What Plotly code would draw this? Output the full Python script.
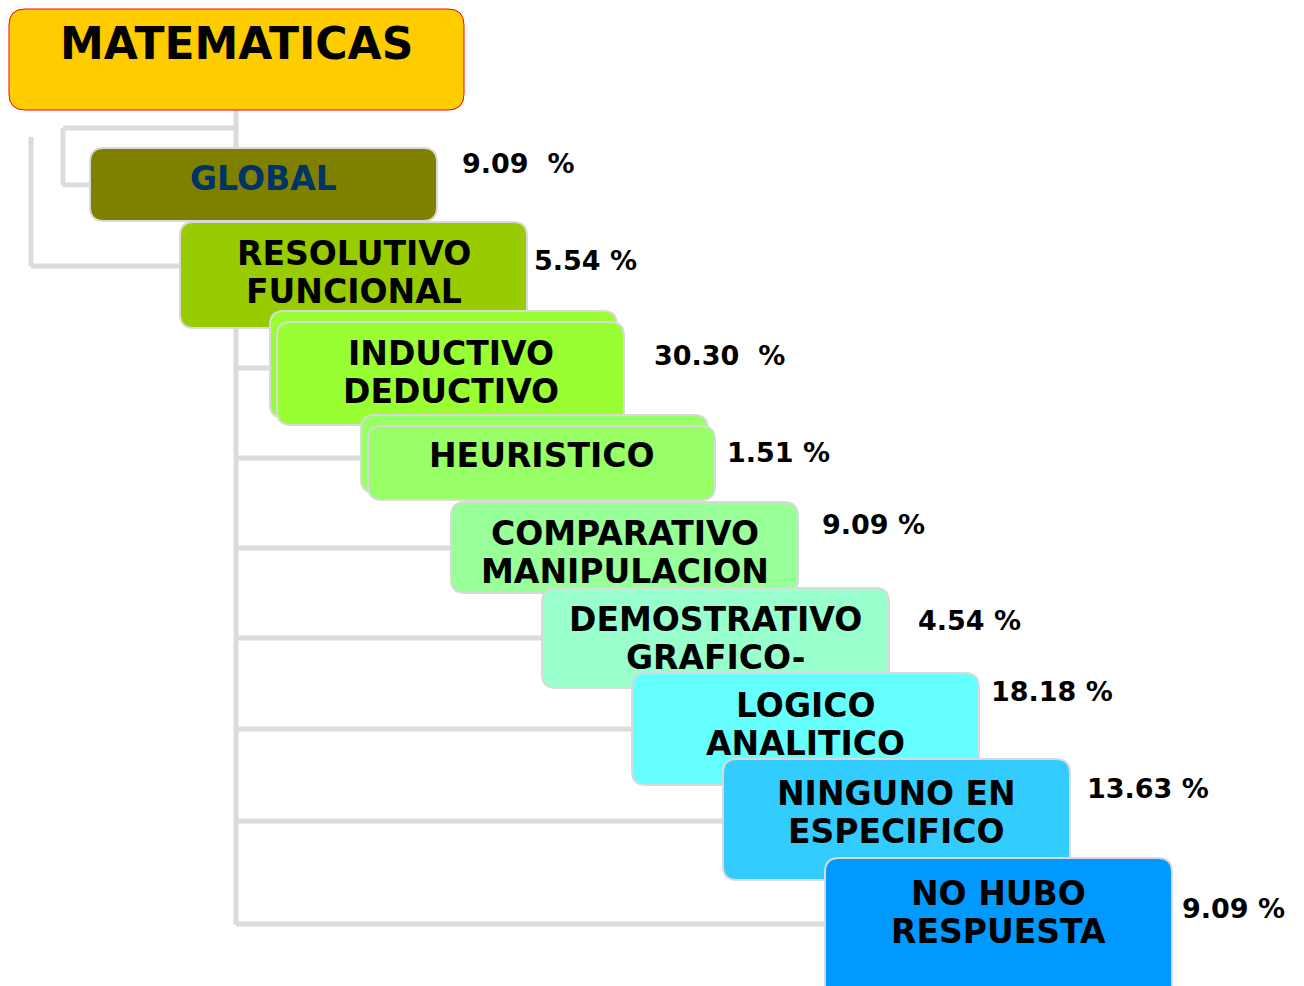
import plotly.graph_objects as go

# ---- data ----
title_text = "MATEMATICAS"
categories = ["GLOBAL", "RESOLUTIVO<br>FUNCIONAL", "INDUCTIVO<br>DEDUCTIVO", "HEURISTICO",
              "COMPARATIVO<br>MANIPULACION", "DEMOSTRATIVO<br>GRAFICO-", "LOGICO<br>ANALITICO",
              "NINGUNO EN<br>ESPECIFICO", "NO HUBO<br>RESPUESTA"]
percents = [9.09, 5.54, 30.30, 1.51, 9.09, 4.54, 18.18, 13.63, 9.09]
pct_gap = ["  ", " ", "  ", " ", " ", " ", " ", " ", " "]

# ---- layout / style ----
fills = ["#808000", "#99CC00", "#99FF33", "#99FF66", "#99FF99", "#99FFCC", "#66FFFF", "#33CCFF", "#0099FF"]
text_colors = ["#003366"] + ["#000000"] * 8
box_x0 = [90, 180, 277, 368, 451, 542, 632, 723, 825]
box_y0 = [148, 222, 322, 426, 502, 588, 673, 759, 858]
box_y1 = [221, 328, 425, 500, 593, 688, 785, 880, 1000]
box_w = 347
text_y = [178, 272, 372, 455, 552, 638, 724, 812, 912]
line_gap = 38
pct_x = [460, 532, 652, 725, 820, 916, 989, 1085, 1180]
pct_y = [163, 260, 355, 452, 524, 620, 691, 788, 908]
double_boxes = [2, 3]
W, H = 1304, 986
OFF = 8  # body margin of the page
LINE = "#DCDCDC"
FONT = "DejaVu Sans"


def rrect(x0, y0, x1, y1, r=14):
    return (f"M{x0+r},{y0} L{x1-r},{y0} Q{x1},{y0} {x1},{y0+r} L{x1},{y1-r} Q{x1},{y1} {x1-r},{y1} "
            f"L{x0+r},{y1} Q{x0},{y1} {x0},{y1-r} L{x0},{y0+r} Q{x0},{y0} {x0+r},{y0} Z")


shapes = []
# connectors
conn = [
    (236, 110, 236, 925), (63, 128, 236, 128), (63, 128, 63, 185), (63, 185, 90, 185),
    (31, 137, 31, 266), (31, 266, 180, 266),
]
for i, y in zip(range(2, 9), [368, 458, 548, 638, 729, 821, 924]):
    conn.append((236, y, box_x0[i], y))
for x0, y0, x1, y1 in conn:
    shapes.append(dict(type="line", x0=x0, y0=y0, x1=x1, y1=y1, xref="x", yref="y",
                       line=dict(color=LINE, width=5), layer="below"))

# title box
shapes.append(dict(type="path", path=rrect(9, 9, 464, 110, 16), xref="x", yref="y",
                   fillcolor="#FFCC00", line=dict(color="#FF0000", width=1)))

annotations = [dict(x=236, y=43, xref="x", yref="y", text=title_text, showarrow=False,
                    font=dict(family=FONT, size=44, color="#000000", weight="bold"))]

for i, cat in enumerate(categories):
    x0 = box_x0[i]
    if i in double_boxes:
        shapes.append(dict(type="path", path=rrect(x0 - 7, box_y0[i] - 11, x0 - 7 + box_w, box_y1[i] - 7),
                           xref="x", yref="y", fillcolor=fills[i], line=dict(color="#D9D9D9", width=2)))
    shapes.append(dict(type="path", path=rrect(x0, box_y0[i], x0 + box_w, box_y1[i]),
                       xref="x", yref="y", fillcolor=fills[i], line=dict(color="#D9D9D9", width=2)))
    lines = cat.split("<br>")
    for k, ln in enumerate(lines):
        yy = text_y[i] + (k - (len(lines) - 1) / 2) * line_gap
        annotations.append(dict(x=x0 + box_w / 2, y=yy, xref="x", yref="y", text=ln,
                                showarrow=False, align="center",
                                font=dict(family=FONT, size=33, color=text_colors[i], weight="bold")))
    annotations.append(dict(x=pct_x[i], y=pct_y[i], xref="x", yref="y", xanchor="left",
                            text=f"{percents[i]:.2f}{pct_gap[i]}%", showarrow=False,
                            font=dict(family=FONT, size=27, color="#000000", weight="bold")))

fig = go.Figure()
fig.update_layout(
    width=W, height=H, margin=dict(l=0, r=0, t=0, b=0),
    paper_bgcolor="white", plot_bgcolor="white",
    xaxis=dict(range=[OFF, W + OFF], visible=False, fixedrange=True),
    yaxis=dict(range=[H + OFF, OFF], visible=False, fixedrange=True),
    shapes=shapes, annotations=annotations, showlegend=False,
)
fig.write_html("out.html")
